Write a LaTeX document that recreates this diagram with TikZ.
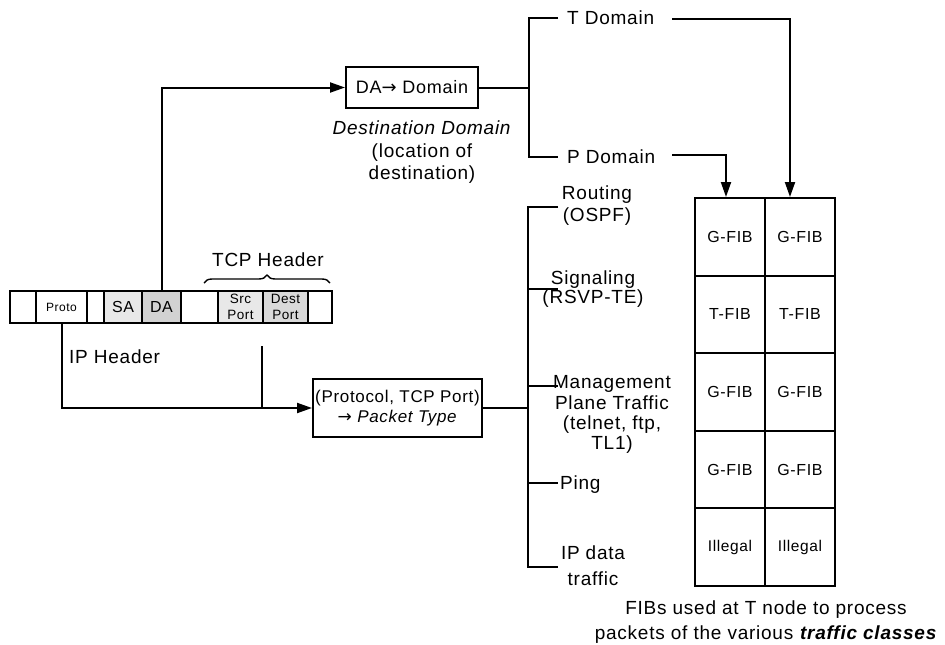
\documentclass[tikz,border=0pt]{standalone}
\usepackage{fontspec}
\setmainfont{Liberation Sans}[LetterSpace=4]
\newfontfamily\arrowfont{DejaVu Sans}
\usetikzlibrary{arrows.meta,decorations.pathreplacing}
\newcommand\fsz[2]{\fontsize{#1pt}{#2pt}\selectfont}
\begin{document}
\begin{tikzpicture}[x=1pt,y=-1pt,
  ln/.style={line width=2pt},
  arr/.style={line width=2pt,-{Triangle[length=15pt,width=10pt]}},
  cell/.style={draw,line width=2pt,inner sep=0pt,minimum height=32pt,align=center},
  box/.style={draw,line width=2pt,inner sep=0pt,align=center},
  fib/.style={draw,line width=2pt,inner sep=0pt,minimum width=70pt,minimum height=77.6pt,font=\fsz{16}{18}},
  lab/.style={inner sep=0pt,align=center,font=\fsz{19}{22}}]
\useasboundingbox (0,0) rectangle (945,645);

% header bar
\node[cell,minimum width=26pt] (c1) at (23,307) {};
\node[cell,minimum width=51pt,font=\fsz{12}{14}] (proto) at (61.5,307) {Proto};
\node[cell,minimum width=17pt] (c3) at (95.5,307) {};
\node[cell,minimum width=38pt,fill=gray!18,font=\fsz{16}{18}] (sa) at (123,307) {SA};
\node[cell,minimum width=39pt,fill=gray!35,font=\fsz{16}{18}] (da) at (161.5,307) {DA};
\node[cell,minimum width=37pt] (c6) at (199.5,307) {};
\node[cell,minimum width=45pt,fill=gray!18,font=\fsz{13.5}{16}] (src) at (240.5,307) {Src\\Port};
\node[cell,minimum width=45pt,fill=gray!30,font=\fsz{13.5}{16}] (dport) at (285.5,307) {Dest\\Port};
\node[cell,minimum width=24pt] (c9) at (320,307) {};

\coordinate (brl) at (204,283);
\coordinate (brr) at (330,283);
\draw[line width=1.4pt,decorate,decoration={brace,amplitude=8pt}] (brl) -- (brr);
\node[lab,anchor=base] (tcph) at (268,266.8) {TCP Header};
\node[lab,anchor=base west] (iph) at (69,363.8) {IP Header};

% boxes
\node[box,minimum width=132pt,minimum height=41pt,font=\fsz{18}{20}] (dabox) at (412,87.5) {DA{\arrowfont→} Domain};
\node[box,minimum width=169pt,minimum height=58pt,font=\fsz{17}{19.5}] (ptbox) at (397.5,408) {(Protocol, TCP Port)\\{\arrowfont→} \textit{Packet Type}};

\draw[arr] (da.north) |- (dabox.west);
\draw[arr] (proto.south) |- (ptbox.west);
\coordinate (tcpd) at (262,346);
\draw[ln] (tcpd) -- (tcpd |- ptbox.west);

% domain branch
\coordinate (b1) at (529,87.5);
\coordinate (bt) at (529,18);
\coordinate (bp) at (529,157);
\coordinate (tl) at (558,18);
\coordinate (pl) at (558,157);
\draw[ln] (dabox.east) -- (b1);
\draw[ln] (tl) -- (bt) -- (bp) -- (pl);
\node[lab,anchor=base west] (tdom) at (567,24.8) {T Domain};
\node[lab,anchor=base west] (pdom) at (567,163.8) {P Domain};
\node[lab,anchor=base,font=\fsz{19}{22.5}] (dd) at (422,179.8) {\textit{Destination Domain}\\(location of\\destination)};

% FIB table
\node[fib] (g11) at (730,236.8) {G-FIB};
\node[fib] (g12) at (800,236.8) {G-FIB};
\node[fib] (g21) at (730,314.4) {T-FIB};
\node[fib] (g22) at (800,314.4) {T-FIB};
\node[fib] (g31) at (730,392) {G-FIB};
\node[fib] (g32) at (800,392) {G-FIB};
\node[fib] (g41) at (730,469.6) {G-FIB};
\node[fib] (g42) at (800,469.6) {G-FIB};
\node[fib,font=\fsz{15.5}{18}] (g51) at (730,547.2) {Illegal};
\node[fib,font=\fsz{15.5}{18}] (g52) at (800,547.2) {Illegal};

\coordinate (tr) at (672,19);
\coordinate (pr) at (672,155);
\draw[arr] (tr) -| ([xshift=-10pt]g12.north);
\draw[arr] (pr) -| ([xshift=-4pt]g11.north);

% packet type branch
\coordinate (b2) at (528,408);
\coordinate (k1) at (528,207);
\coordinate (k2) at (528,289);
\coordinate (k3) at (528,386);
\coordinate (k4) at (528,483);
\coordinate (k5) at (528,567);
\coordinate (r1) at (558,207);
\coordinate (r2) at (558,289);
\coordinate (r3) at (558,386);
\coordinate (r4) at (558,483);
\coordinate (r5) at (558,567);
\draw[ln] (ptbox.east) -- (b2);
\draw[ln] (r1) -- (k1) -- (k5) -- (r5);
\draw[ln] (k2) -- (r2);
\draw[ln] (k3) -- (r3);
\draw[ln] (k4) -- (r4);

\node[lab,anchor=base,font=\fsz{19}{22}] (rout) at (597,221.8) {Routing\\(OSPF)};
\node[lab,anchor=base,font=\fsz{19}{19}] (sig) at (593,303.8) {Signaling\\(RSVP-TE)};
\node[lab,anchor=base,font=\fsz{19}{20.3}] (mgmt) at (612,449.8) {Management\\Plane Traffic\\(telnet, ftp,\\TL1)};
\node[lab,anchor=base west] (ping) at (560,489.8) {Ping};
\node[lab,anchor=base,font=\fsz{19}{26}] (ipd) at (593,585.8) {IP data\\traffic};

\node[lab,anchor=base,font=\fsz{19}{25}] (cap) at (766,639.8) {FIBs used at T node to process\\packets of the various \textbf{\textit{traffic classes}}};
\end{tikzpicture}
\end{document}
